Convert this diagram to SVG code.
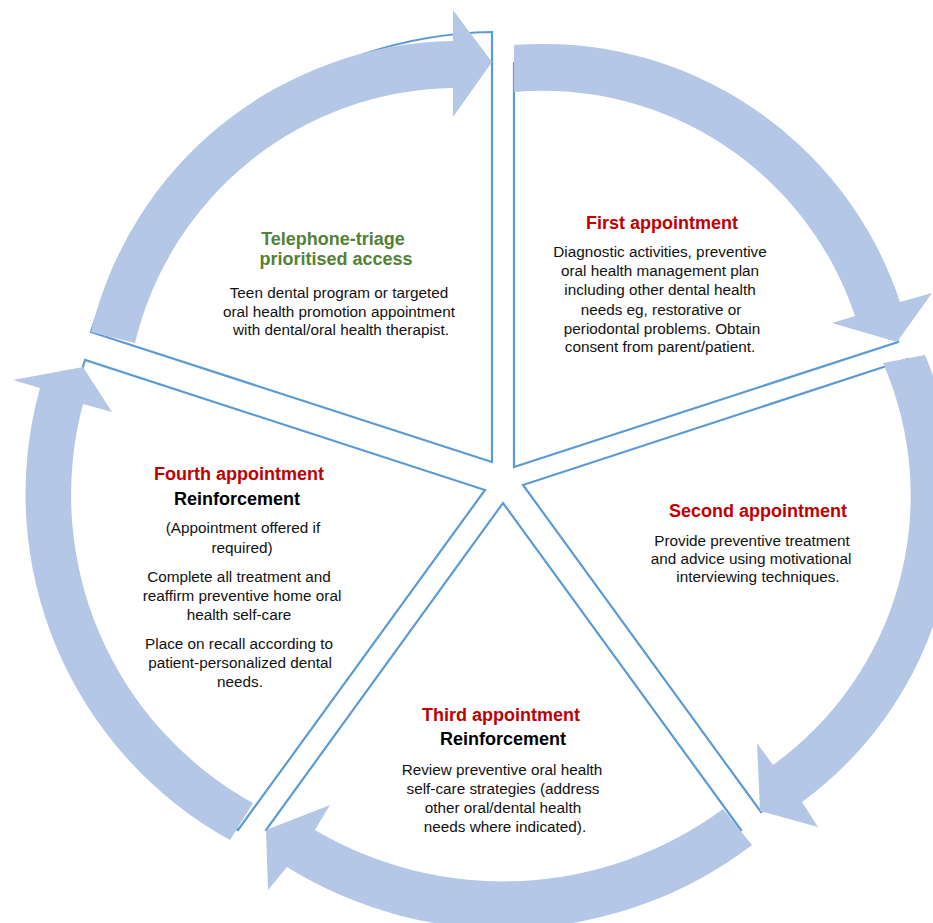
<svg xmlns="http://www.w3.org/2000/svg" width="933" height="923" viewBox="0 0 933 923">
<style>
.wedge{fill:none;stroke:#5B9BD5;stroke-width:2.2;stroke-linejoin:miter}
.arrow{fill:#B4C7E7;stroke:none}
text{font-family:"Liberation Sans",Arial,sans-serif;text-anchor:middle}
.h{font-size:18px;font-weight:bold}
.red{fill:#C00000}
.green{fill:#538135}
.blk{fill:#000}
.b{font-size:15.3px;fill:#111}
</style>
<rect width="933" height="923" fill="#fff"/>
<g id="telephone-triage">
<path class="wedge" d="M 91,332 L 492,462 L 492,32 A 428 428 0 0 0 91,332 Z"/>
<text class="h green" x="333" y="245">Telephone-triage</text>
<text class="h green" x="336" y="265">prioritised access</text>
<text class="b" x="339" y="298">Teen dental program or targeted</text>
<text class="b" x="339" y="316.5">oral health promotion appointment</text>
<text class="b" x="341" y="335">with dental/oral health therapist.</text>
</g>
<g id="first-appointment">
<path class="wedge" d="M 514,63 L 514,467 L 898,342 A 404 404 0 0 0 514,63 Z"/>
<text class="h red" x="662" y="229">First appointment</text>
<text class="b" x="660" y="257">Diagnostic activities, preventive</text>
<text class="b" x="660" y="276">oral health management plan</text>
<text class="b" x="660" y="295">including other dental health</text>
<text class="b" x="661" y="315">needs eg, restorative or</text>
<text class="b" x="662" y="334">periodontal problems. Obtain</text>
<text class="b" x="660" y="352">consent from parent/patient.</text>
</g>
<g id="second-appointment">
<path class="wedge" d="M 908,359 L 523,485 L 761,812 A 405 405 0 0 0 908,359 Z"/>
<text class="h red" x="758" y="517">Second appointment</text>
<text class="b" x="752" y="546">Provide preventive treatment</text>
<text class="b" x="751" y="564">and advice using motivational</text>
<text class="b" x="758" y="582">interviewing techniques.</text>
</g>
<g id="third-appointment">
<path class="wedge" d="M 741,830 L 503,503 L 266,830 A 405 405 0 0 0 741,830 Z"/>
<text class="h red" x="501" y="721">Third appointment</text>
<text class="h blk" x="503" y="745">Reinforcement</text>
<text class="b" x="502" y="775">Review preventive oral health</text>
<text class="b" x="503" y="794">self-care strategies (address</text>
<text class="b" x="503" y="813">other oral/dental health</text>
<text class="b" x="505" y="832">needs where indicated).</text>
</g>
<g id="fourth-appointment">
<path class="wedge" d="M 238,830 L 485,490 L 85,360 A 420 420 0 0 0 238,830 Z"/>
<text class="h red" x="239" y="480">Fourth appointment</text>
<text class="h blk" x="237" y="505">Reinforcement</text>
<text class="b" x="243" y="533">(Appointment offered if</text>
<text class="b" x="242" y="553">required)</text>
<text class="b" x="239" y="582">Complete all treatment and</text>
<text class="b" x="242" y="601">reaffirm preventive home oral</text>
<text class="b" x="239" y="620">health self-care</text>
<text class="b" x="239" y="649">Place on recall according to</text>
<text class="b" x="240" y="668">patient-personalized dental</text>
<text class="b" x="240" y="687">needs.</text>
</g>
<g id="connectors">
<path class="arrow" d="M 91,332 A 378 378 0 0 1 453,41 L 453,10 L 492,62 L 453,117 L 453,88 A 332 332 0 0 0 135,343 Z"/>
<path class="arrow" d="M 514,45 A 376 376 0 0 1 900,302 L 932,293 L 897,342 L 832,323 L 855,316 A 329 329 0 0 0 514,92 Z"/>
<path class="arrow" d="M 883,363 L 925,355 A 373 373 0 0 1 802,802 L 818,827 L 760,811 L 757,743 L 773,765 A 332 332 0 0 0 883,363 Z"/>
<path class="arrow" d="M 723,809 L 752,845 A 410 410 0 0 1 287,867 L 268,890 L 266,830 L 330,805 L 315,830 A 370 370 0 0 0 723,809 Z"/>
<path class="arrow" d="M 253,803 L 230,840 A 395 395 0 0 1 40,388 L 13,380 L 83,367 L 112,412 L 83,404 A 352 352 0 0 0 253,803 Z"/>
</g>
</svg>
